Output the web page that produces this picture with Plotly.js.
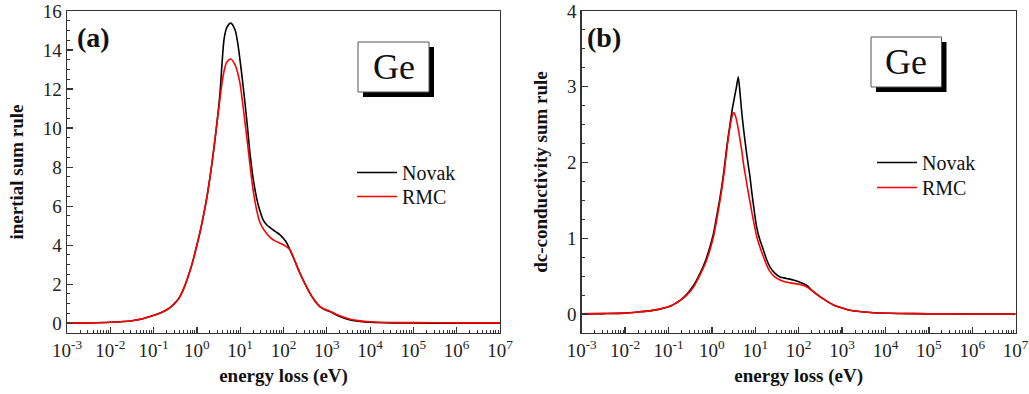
<!DOCTYPE html>
<html>
<head>
<meta charset="utf-8">
<script src="https://cdn.plot.ly/plotly-3.0.1.min.js"></script>
<style>
html,body{margin:0;padding:0;background:#fff;}
#chart{width:1029px;height:394px;}
</style>
</head>
<body>
<div id="chart"></div>
<script>
// ---- Panel (a): inertial sum rule ----
const energyA = [0.001, 0.00316, 0.01, 0.0316, 0.0562, 0.0832, 0.12, 0.17, 0.24, 0.347, 0.417, 0.49, 0.589, 0.708, 0.832, 1.0, 1.202, 1.413, 1.698, 2.042, 2.399, 2.884, 3.388, 3.802, 4.266, 4.898, 6.026, 7.586, 8.71, 9.886, 11.22, 12.88, 14.79, 16.83, 19.95, 23.99, 28.18, 33.88, 40.74, 48.98, 63.1, 83.18, 112.2, 141.3, 186.2, 239.9, 316.2, 407.4, 524.8, 691.8, 891.3, 1175, 1514, 1995, 3467, 5888, 10000, 31620, 1e5, 1e6, 1e7];
const novakA = [0.01, 0.02, 0.05, 0.13, 0.23, 0.34, 0.46, 0.6, 0.8, 1.15, 1.42, 1.75, 2.22, 2.75, 3.3, 4.0, 4.75, 5.5, 6.45, 7.6, 8.75, 10.2, 11.7, 13.3, 14.6, 15.15, 15.38, 15.04, 14.4, 13.5, 12.5, 11.3, 10.0, 8.7, 7.4, 6.4, 5.8, 5.3, 5.05, 4.9, 4.72, 4.53, 4.2, 3.76, 3.15, 2.56, 2.0, 1.54, 1.15, 0.85, 0.7, 0.6, 0.47, 0.34, 0.17, 0.09, 0.05, 0.02, 0.01, 0.005, 0.0];
const rmcA = [0.01, 0.02, 0.05, 0.13, 0.23, 0.34, 0.46, 0.6, 0.8, 1.15, 1.42, 1.75, 2.22, 2.75, 3.3, 4.0, 4.75, 5.5, 6.45, 7.6, 8.75, 10.2, 11.45, 12.3, 12.95, 13.38, 13.54, 13.25, 12.85, 12.3, 11.4, 10.3, 9.2, 8.1, 6.8, 5.8, 5.2, 4.85, 4.6, 4.4, 4.22, 4.1, 3.95, 3.76, 3.15, 2.56, 2.0, 1.54, 1.16, 0.87, 0.72, 0.62, 0.5, 0.38, 0.2, 0.12, 0.08, 0.04, 0.03, 0.02, 0.02];

// ---- Panel (b): dc-conductivity sum rule ----
const energyB = [0.001, 0.00316, 0.01, 0.0219, 0.0398, 0.0631, 0.1, 0.129, 0.186, 0.263, 0.38, 0.537, 0.708, 0.904, 1.096, 1.288, 1.479, 1.683, 1.905, 2.113, 2.344, 2.612, 2.884, 3.236, 3.631, 4.055, 4.446, 4.898, 5.297, 5.754, 6.31, 6.918, 7.551, 8.222, 9.016, 10.72, 12.88, 15.31, 18.2, 21.88, 28.18, 37.15, 52.48, 75.16, 107.2, 151.4, 213.8, 309, 446.7, 631, 1000, 1514, 2818, 5248, 19950, 1e5, 1e6, 1e7];
const novakB = [0.003, 0.006, 0.012, 0.03, 0.045, 0.065, 0.095, 0.125, 0.18, 0.26, 0.38, 0.54, 0.7, 0.89, 1.07, 1.29, 1.48, 1.68, 1.9, 2.12, 2.32, 2.5, 2.67, 2.83, 2.98, 3.13, 2.92, 2.65, 2.47, 2.3, 2.12, 1.96, 1.81, 1.63, 1.45, 1.15, 0.97, 0.85, 0.72, 0.62, 0.54, 0.49, 0.47, 0.45, 0.42, 0.38, 0.3, 0.23, 0.17, 0.12, 0.08, 0.05, 0.03, 0.017, 0.008, 0.003, 0.001, 0.0];
const rmcB = [0.003, 0.006, 0.012, 0.03, 0.045, 0.065, 0.095, 0.125, 0.18, 0.25, 0.36, 0.52, 0.67, 0.85, 1.03, 1.24, 1.44, 1.64, 1.86, 2.08, 2.29, 2.47, 2.6, 2.66, 2.58, 2.44, 2.3, 2.15, 2.0, 1.87, 1.73, 1.6, 1.48, 1.36, 1.24, 1.03, 0.88, 0.76, 0.65, 0.56, 0.49, 0.45, 0.42, 0.405, 0.39, 0.36, 0.3, 0.23, 0.17, 0.12, 0.08, 0.05, 0.03, 0.017, 0.008, 0.003, 0.001, 0.0];

const seriesNames = ['Novak', 'RMC'];
const seriesColors = ['#000000', '#ff0000'];
const xTickVals = [1e-3, 1e-2, 1e-1, 1e0, 1e1, 1e2, 1e3, 1e4, 1e5, 1e6, 1e7];
const xTickText = ['10<sup>-3</sup>', '10<sup>-2</sup>', '10<sup>-1</sup>', '10<sup>0</sup>', '10<sup>1</sup>', '10<sup>2</sup>', '10<sup>3</sup>', '10<sup>4</sup>', '10<sup>5</sup>', '10<sup>6</sup>', '10<sup>7</sup>'];
const panelLabels = ['(a)', '(b)'];
const xTitle = 'energy loss (eV)';
const yTitles = ['inertial sum rule', 'dc-conductivity sum rule'];
const sampleLabel = 'Ge';

const FONT = 'Liberation Serif, Times New Roman, DejaVu Serif, serif';
const W = 1029, H = 394;
const px = v => v / W;
const py = v => 1 - v / H;

function line(x, y, i, xa, ya, leg, smooth) {
  return {
    x: x, y: y, xaxis: xa, yaxis: ya, name: seriesNames[i], legend: leg,
    type: 'scatter', mode: 'lines',
    line: {color: seriesColors[i], width: 1.6, shape: 'spline', smoothing: smooth}
  };
}

const data = [
  line(energyA, novakA, 0, 'x', 'y', 'legend', 0.8),
  line(energyA, rmcA, 1, 'x', 'y', 'legend2', 0.8),
  line(energyB, novakB, 0, 'x2', 'y2', 'legend3', 0.6),
  line(energyB, rmcB, 1, 'x2', 'y2', 'legend4', 0.6)
];

function xaxis(domain, anchor) {
  return {
    domain: domain, anchor: anchor, type: 'log', range: [-3, 7],
    tickmode: 'array', tickvals: xTickVals, ticktext: xTickText,
    ticks: 'inside', ticklen: 6, tickwidth: 1.2, tickcolor: '#333',
    minor: {ticks: 'inside', ticklen: 3, tickwidth: 1, tickcolor: '#333', dtick: 'D1', showgrid: false},
    showline: true, linecolor: '#333', linewidth: 1.4, mirror: true,
    showgrid: false, zeroline: false,
    tickfont: {family: FONT, size: 19, color: '#222'},
    title: {text: '<b>' + xTitle + '</b>', font: {family: FONT, size: 19, color: '#111'}, standoff: 8}
  };
}
function yaxis(domain, anchor, range, dtick, minorDtick, title) {
  return {
    domain: domain, anchor: anchor, range: range,
    tickmode: 'linear', tick0: 0, dtick: dtick,
    ticks: 'inside', ticklen: 6, tickwidth: 1.2, tickcolor: '#333',
    minor: {ticks: 'inside', ticklen: 3, tickwidth: 1, tickcolor: '#333', dtick: minorDtick, tick0: 0, showgrid: false},
    showline: true, linecolor: '#333', linewidth: 1.4, mirror: true,
    showgrid: false, zeroline: false,
    tickfont: {family: FONT, size: 19, color: '#222'},
    title: {text: '<b>' + title + '</b>', font: {family: FONT, size: 19, color: '#111'}, standoff: 14}
  };
}
function legendAt(x, yTop) {
  return {x: px(x), y: py(yTop), xanchor: 'left', yanchor: 'top', bgcolor: 'rgba(0,0,0,0)',
          font: {family: FONT, size: 20, color: '#111'}, itemwidth: 40};
}

const yDom = [1 - 333 / H, 1 - 11 / H];
const layout = {
  width: W, height: H,
  margin: {l: 0, r: 0, t: 0, b: 0},
  paper_bgcolor: '#fff', plot_bgcolor: '#fff',
  font: {family: FONT},
  showlegend: true,
  xaxis: xaxis([px(67), px(500)], 'y'),
  yaxis: yaxis(yDom, 'x', [-0.5, 16], 2, 0.5, yTitles[0]),
  xaxis2: xaxis([px(581.7), px(1015.7)], 'y2'),
  yaxis2: yaxis(yDom, 'x2', [-0.25, 4], 1, 0.25, yTitles[1]),
  legend: legendAt(352, 153),
  legend2: legendAt(352, 177),
  legend3: legendAt(872, 143),
  legend4: legendAt(872, 168),
  shapes: [
    {type: 'rect', xref: 'paper', yref: 'paper', x0: px(363), x1: px(434), y0: py(97), y1: py(47), fillcolor: '#000', line: {width: 0}},
    {type: 'rect', xref: 'paper', yref: 'paper', x0: px(358), x1: px(429), y0: py(92), y1: py(42), fillcolor: '#fff', line: {color: '#555', width: 1}},
    {type: 'rect', xref: 'paper', yref: 'paper', x0: px(876), x1: px(946.5), y0: py(92), y1: py(42), fillcolor: '#000', line: {width: 0}},
    {type: 'rect', xref: 'paper', yref: 'paper', x0: px(871), x1: px(941.5), y0: py(87), y1: py(37), fillcolor: '#fff', line: {color: '#555', width: 1}}
  ],
  annotations: [
    {xref: 'paper', yref: 'paper', x: px(93), y: py(38), text: '<b>' + panelLabels[0] + '</b>', showarrow: false,
     font: {family: FONT, size: 28, color: '#111'}, xanchor: 'center', yanchor: 'middle'},
    {xref: 'paper', yref: 'paper', x: px(604), y: py(38), text: '<b>' + panelLabels[1] + '</b>', showarrow: false,
     font: {family: FONT, size: 28, color: '#111'}, xanchor: 'center', yanchor: 'middle'},
    {xref: 'paper', yref: 'paper', x: px(393.5), y: py(67), text: sampleLabel, showarrow: false,
     font: {family: FONT, size: 36, color: '#111'}, xanchor: 'center', yanchor: 'middle'},
    {xref: 'paper', yref: 'paper', x: px(906), y: py(62), text: sampleLabel, showarrow: false,
     font: {family: FONT, size: 36, color: '#111'}, xanchor: 'center', yanchor: 'middle'}
  ]
};

Plotly.newPlot('chart', data, layout, {displayModeBar: false, staticPlot: true});
</script>
</body>
</html>
